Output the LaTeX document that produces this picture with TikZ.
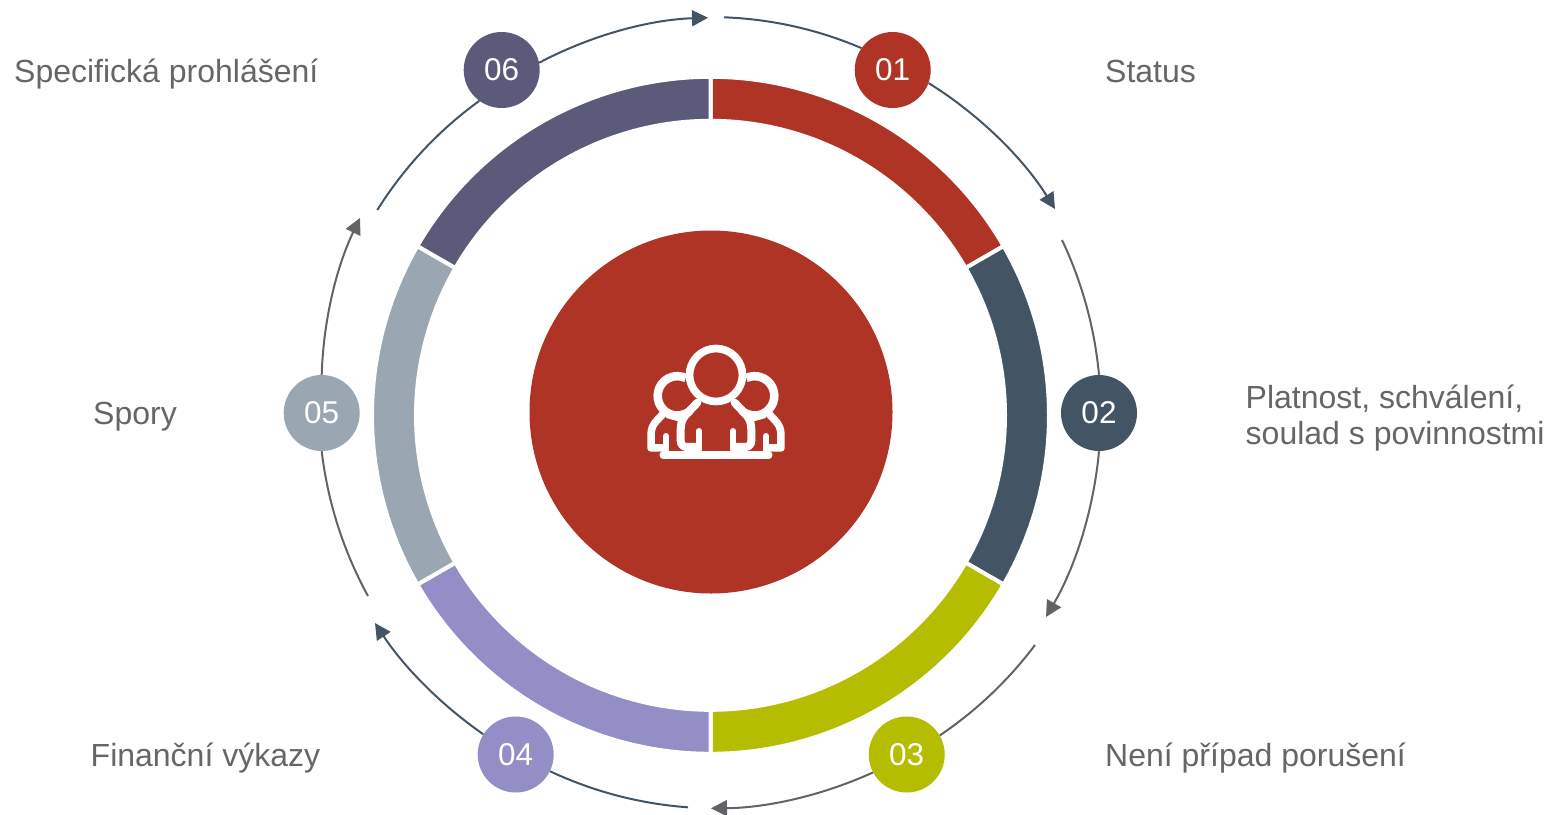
\documentclass[tikz,border=0pt]{standalone}
\usepackage{fontspec}
\setmainfont{Liberation Sans}
\usetikzlibrary{arrows.meta}
\definecolor{cred}{HTML}{B03426}
\definecolor{cdark}{HTML}{435564}
\definecolor{colive}{HTML}{B5BD00}
\definecolor{clav}{HTML}{938FC6}
\definecolor{cgrey}{HTML}{9AA6B2}
\definecolor{cpurp}{HTML}{5C5A7A}
\definecolor{carrow}{HTML}{626366}
\definecolor{ctext}{HTML}{666666}
\tikzset{
  num/.style={circle,minimum size=76pt,inner sep=0pt,text=white,font=\fontsize{31.5}{32}\selectfont},
  lab/.style={anchor=base west,text=ctext,inner sep=0pt,align=left,font=\fontsize{32}{36}\selectfont},
  arcd/.style={line width=2pt,draw=cdark,looseness=0.86},
  arcg/.style={line width=2pt,draw=carrow,looseness=0.86},
  tipd/.style={-{Triangle[length=16pt,width=16pt]}},
  seg/.style={draw=white,line width=4pt},
  icon/.style={draw=white,line cap=round,line join=round}
}
\newcommand{\ringseg}[3]{\fill[seg,#1] (#2:338.5) arc[start angle=#2,end angle=#3,radius=338.5] -- (#3:294.5) arc[start angle=#3,end angle=#2,radius=294.5] -- cycle;}
\begin{document}
\begin{tikzpicture}[x=1pt,y=-1pt]
\useasboundingbox (0,0) rectangle (1549,814);
\begin{scope}[shift={(710.5,415.3)},x=1pt,y=1pt]
\ringseg{fill=cred}{90}{30}
\ringseg{fill=cdark}{30}{-30}
\ringseg{fill=colive}{-30}{-90}
\ringseg{fill=clav}{-90}{-150}
\ringseg{fill=cgrey}{-150}{-210}
\ringseg{fill=cpurp}{150}{90}
\end{scope}
\node[circle,fill=cred,minimum size=363pt,inner sep=0pt] (core) at (711,412) {};
\node[num,fill=cred] (n01) at (892.7,70) {01};
\node[num,fill=cdark] (n02) at (1099,413) {02};
\node[num,fill=colive] (n03) at (906.7,754.5) {03};
\node[num,fill=clav] (n04) at (515.7,754.5) {04};
\node[num,fill=cgrey] (n05) at (321.7,413) {05};
\node[num,fill=cpurp] (n06) at (501.7,70) {06};
\coordinate (s1) at (724,17.3);
\coordinate (e1) at (1055,209);
\coordinate (s2) at (1062,240);
\coordinate (e2) at (1046,617);
\coordinate (s3) at (1035,645);
\coordinate (e3) at (711,808.3);
\coordinate (s4) at (688,807.3);
\coordinate (e4) at (375,623);
\coordinate (s5) at (368,596);
\coordinate (e5) at (360,218);
\coordinate (s6) at (377.3,210);
\coordinate (e6) at (708,17.7);
\draw[arcd] (s1) to[bend left=10.5] (n01.145);
\draw[arcd,tipd] (n01.-20) to[bend left=13] (e1);
\draw[arcg] (s2) to[bend left=10] (n02.90);
\draw[arcg,tipd] (n02.-90) to[bend left=12.5] (e2);
\draw[arcg] (s3) to[bend left=9.5] (n03.30);
\draw[arcg,tipd] (n03.-152) to[bend left=12] (e3);
\draw[arcd] (s4) to[bend left=10.5] (n04.-26);
\draw[arcd,tipd] (n04.148) to[bend left=11] (e4);
\draw[arcg] (s5) to[bend left=11] (n05.-90);
\draw[arcg,tipd] (n05.90) to[bend left=12] (e5);
\draw[arcd] (s6) to[bend left=11] (n06.-126);
\draw[arcd,tipd] (n06.11) to[bend left=13] (e6);
\node[lab] (t1) at (1105,82) {Status};
\node[lab,anchor=north west] (t2) at (1245.5,385) {Platnost, schválení,\\soulad s povinnostmi};
\node[lab] (t3) at (1105,766) {Není případ porušení};
\node[lab] (t4) at (90.5,766) {Finanční výkazy};
\node[lab] (t5) at (93,424) {Spory};
\node[lab] (t6) at (14,82) {Specifická prohlášení};
% icon, drawn in the coordinates of a 3x crop
\begin{scope}[shift={(620,320)},x=0.3333pt,y=-0.3333pt]
\draw[icon,line width=7.7pt] (288,165) circle[radius=79.5];
\draw[icon,line width=8.5pt,line cap=butt] (197,174) arc[start angle=-65,end angle=-310,radius=59];
\draw[icon,line width=8.5pt,line cap=butt] (379,174) arc[start angle=-115,end angle=130,radius=59];
\draw[icon,line width=8pt] (232,248) -- (196,286) .. controls (186,298) and (182,312) .. (182,330) -- (182,362) .. controls (182,374) and (190,381) .. (200,381) -- (232,381);
\draw[icon,line width=8pt] (344,248) -- (380,286) .. controls (390,298) and (394,312) .. (394,330) -- (394,362) .. controls (394,374) and (386,381) .. (376,381) -- (344,381);
\draw[icon,line width=6pt] (237,333) -- (237,400);
\draw[icon,line width=6pt] (339,333) -- (339,400);
\draw[icon,line width=7.5pt] (126,285) -- (110,302) .. controls (98,314) and (93,328) .. (93,345) -- (93,384) -- (130,384);
\draw[icon,line width=7.5pt] (450,285) -- (466,302) .. controls (478,314) and (483,328) .. (483,345) -- (483,384) -- (446,384);
\draw[icon,line width=6pt] (138,348) -- (138,400);
\draw[icon,line width=6pt] (438,348) -- (438,400);
\draw[icon,line width=7pt] (145,285) -- (178,294);
\draw[icon,line width=7pt] (431,285) -- (398,294);
\draw[icon,line width=7.7pt] (130,406) -- (446,406);
\end{scope}
\end{tikzpicture}
\end{document}
